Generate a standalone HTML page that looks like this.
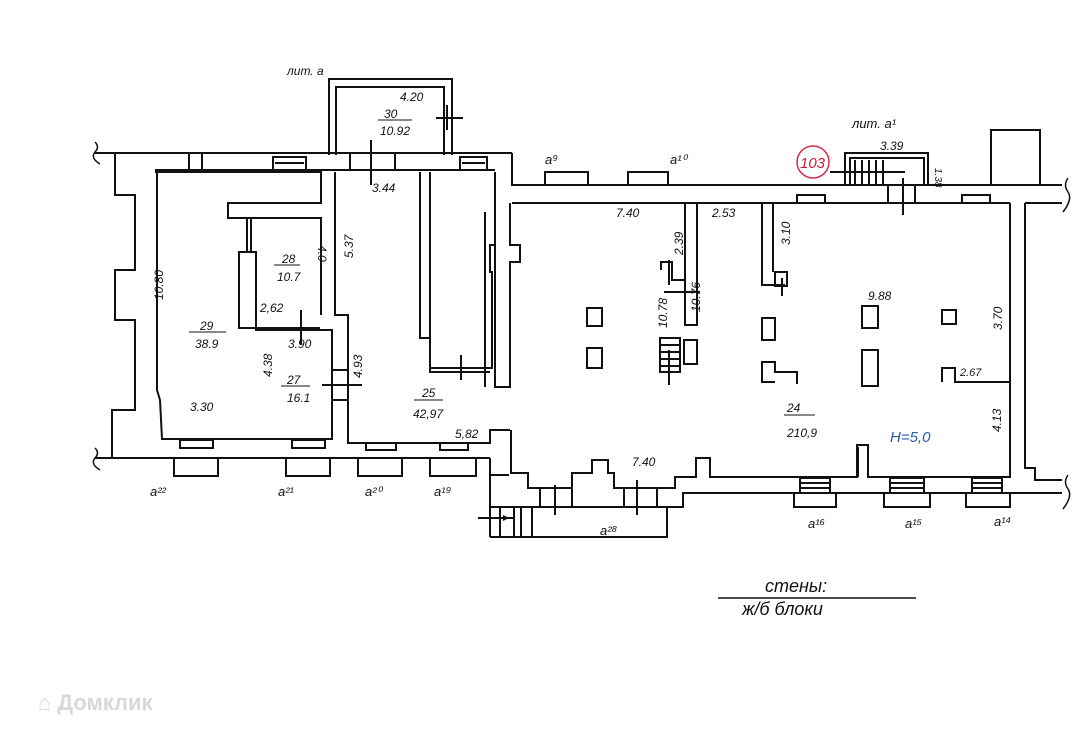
<!DOCTYPE html>
<html><head><meta charset="utf-8">
<style>
html,body{margin:0;padding:0;background:#fff;}
svg{display:block;}
text{font-family:"Liberation Sans",sans-serif;font-style:italic;fill:#111;}
</style></head><body>
<svg width="1080" height="745" viewBox="0 0 1080 745" xmlns="http://www.w3.org/2000/svg">
<rect width="1080" height="745" fill="#fff"/>
<g fill="none" stroke="#111" stroke-width="2">
<polyline points="329,155 329,79 452,79 452,155"/>
<polyline points="336,155 336,87 444,87 444,155"/>
<line x1="436" y1="118" x2="463" y2="118"/><line x1="447" y1="105" x2="447" y2="130"/>
<line x1="95" y1="153" x2="512" y2="153"/>
<polyline points="512,153 512,185 1062,185"/>
<line x1="512" y1="203" x2="1010" y2="203"/>
<line x1="1025" y1="203" x2="1062" y2="203"/>
<polyline points="115,153 115,195 135,195 135,270 115,270 115,320 135,320 135,410 112,410 112,458"/>
<polyline points="155,172 321,172 321,203 228,203 228,218 321,218 321,315"/>
<polyline points="157,172 157,390 160,400 162,439 332,439 332,330 256,330 256,252 239,252 239,328 320,328"/>
<line x1="247" y1="218" x2="247" y2="252"/><line x1="251" y1="218" x2="251" y2="252"/>
<polyline points="335,172 335,315 348,315 348,443 490,443 490,430 510,430"/>
<rect x="332" y="370" width="16" height="30"/>
<line x1="322" y1="385" x2="362" y2="385"/>
<line x1="301" y1="310" x2="301" y2="345"/>
<line x1="155" y1="170" x2="495" y2="170"/>
<line x1="189" y1="153" x2="189" y2="170"/><line x1="202" y1="153" x2="202" y2="170"/>
<rect x="273" y="157" width="33" height="13"/><line x1="275" y1="163" x2="304" y2="163"/>
<line x1="350" y1="153" x2="350" y2="170"/><line x1="395" y1="153" x2="395" y2="170"/>
<line x1="371" y1="140" x2="371" y2="185"/>
<rect x="460" y="157" width="27" height="13"/><line x1="462" y1="163" x2="485" y2="163"/>
<polyline points="420,172 420,338 430,338 430,372 490,372"/>
<polyline points="430,172 430,368 492,368 492,272 490,272 490,245 495,245 495,172"/>
<line x1="461" y1="355" x2="461" y2="380"/>
<polyline points="495,172 495,387 510,387"/>
<polyline points="510,203 510,245 520,245 520,262 510,262 510,388"/>
<line x1="485" y1="212" x2="485" y2="387"/>
<rect x="180" y="440" width="33" height="8"/><rect x="292" y="440" width="33" height="8"/>
<rect x="366" y="443" width="30" height="7"/><rect x="440" y="443" width="28" height="7"/>
<line x1="95" y1="458" x2="490" y2="458"/>
<polyline points="174,458 174,476 218,476 218,458"/><polyline points="286,458 286,476 330,476 330,458"/>
<polyline points="358,458 358,476 402,476 402,458"/><polyline points="430,458 430,476 476,476 476,458"/>
<polyline points="490,458 490,475 509,475"/>
<polyline points="511,430 511,473 528,473 528,488 572,488 572,473 592,473 592,460 608,460 608,473 614,473 614,488 675,488 675,477 696,477 696,458 710,458 710,477 857,477 857,445 868,445 868,477 1010,477 1010,203"/>
<polyline points="1025,203 1025,468 1035,468 1035,480 1062,480"/>
<polyline points="490,475 490,507 683,507 683,493 1062,493"/>
<polyline points="490,537 667,537 667,507"/>
<line x1="490" y1="507" x2="490" y2="537"/>
<line x1="500" y1="507" x2="500" y2="537"/><line x1="514" y1="507" x2="514" y2="537"/><line x1="521" y1="507" x2="521" y2="537"/><line x1="532" y1="507" x2="532" y2="537"/>
<line x1="478" y1="518" x2="515" y2="518"/>
<line x1="555" y1="485" x2="555" y2="515"/><line x1="637" y1="480" x2="637" y2="515"/>
<line x1="540" y1="488" x2="540" y2="507"/><line x1="572" y1="488" x2="572" y2="507"/><line x1="624" y1="488" x2="624" y2="507"/><line x1="657" y1="488" x2="657" y2="507"/>
<rect x="800" y="478" width="30" height="15"/><line x1="800" y1="483" x2="830" y2="483"/><line x1="800" y1="488" x2="830" y2="488"/>
<polyline points="794,493 794,507 836,507 836,493"/>
<rect x="890" y="478" width="34" height="15"/><line x1="890" y1="483" x2="924" y2="483"/><line x1="890" y1="488" x2="924" y2="488"/>
<polyline points="884,493 884,507 930,507 930,493"/>
<rect x="972" y="478" width="30" height="15"/><line x1="972" y1="483" x2="1002" y2="483"/><line x1="972" y1="488" x2="1002" y2="488"/>
<polyline points="966,493 966,507 1010,507 1010,493"/>
<polyline points="545,185 545,172 588,172 588,185"/><polyline points="628,185 628,172 668,172 668,185"/>
<rect x="797" y="195" width="28" height="8"/><rect x="962" y="195" width="28" height="8"/>
<line x1="888" y1="185" x2="888" y2="203"/><line x1="915" y1="185" x2="915" y2="203"/>
<line x1="903" y1="178" x2="903" y2="215"/>
<polyline points="845,185 845,153 928,153 928,185"/>
<polyline points="850,185 850,158 924,158 924,185"/>
<line x1="855" y1="160" x2="855" y2="185"/><line x1="862" y1="160" x2="862" y2="185"/><line x1="869" y1="160" x2="869" y2="185"/><line x1="876" y1="160" x2="876" y2="185"/><line x1="883" y1="160" x2="883" y2="185"/>
<line x1="830" y1="172" x2="905" y2="172"/>
<polyline points="991,185 991,130 1040,130 1040,185"/>
<polyline points="685,203 685,325 697,325 697,203"/>
<polyline points="762,203 762,285 785,285"/>
<line x1="773" y1="203" x2="773" y2="272"/>
<rect x="775" y="272" width="12" height="14"/><line x1="782" y1="278" x2="782" y2="296"/>
<polyline points="661,270 661,262 672,262 672,280 685,280"/>
<line x1="664" y1="292" x2="700" y2="292"/><line x1="669" y1="260" x2="669" y2="285"/>
<rect x="660" y="338" width="20" height="34"/>
<line x1="660" y1="345" x2="680" y2="345"/><line x1="660" y1="352" x2="680" y2="352"/><line x1="660" y1="359" x2="680" y2="359"/><line x1="660" y1="366" x2="680" y2="366"/>
<rect x="684" y="340" width="13" height="24"/>
<line x1="669" y1="350" x2="669" y2="385"/>
<rect x="587" y="308" width="15" height="18"/><rect x="587" y="348" width="15" height="20"/>
<rect x="762" y="318" width="13" height="22"/>
<polyline points="775,382 762,382 762,362 775,362 775,372 797,372 797,384"/>
<rect x="862" y="306" width="16" height="22"/><rect x="862" y="350" width="16" height="36"/>
<rect x="942" y="310" width="14" height="14"/>
<polyline points="942,382 942,368 955,368 955,382 1010,382"/>
<line x1="858" y1="447" x2="858" y2="477"/>
</g>
<path d="M509,518 l-6,-3 v6 z" fill="#111"/>
<g fill="none" stroke="#111" stroke-width="1.5">
<path d="M95,142 q5,5 0,10 q-5,6 5,12"/><path d="M95,448 q5,5 0,10 q-5,6 5,12"/>
<path d="M1068,178 q-5,7 0,14 q5,7 -5,20"/><path d="M1068,475 q-5,7 0,14 q5,7 -5,20"/>
</g>
<circle cx="813" cy="162" r="16" fill="none" stroke="#d03050" stroke-width="1.5"/>
<text x="800" y="168" font-size="15" style="fill:#c02040">103</text>
<g font-size="12">
<text x="287" y="75">лит. а</text>
<text x="400" y="101">4.20</text>
<text x="384" y="118">30</text><line x1="378" y1="120" x2="412" y2="120" stroke="#111"/>
<text x="380" y="135">10.92</text>
<text x="372" y="192">3.44</text>
<text x="282" y="263">28</text><line x1="274" y1="265" x2="300" y2="265" stroke="#111"/>
<text x="277" y="281">10.7</text>
<text x="260" y="312">2,62</text>
<text x="288" y="348">3.90</text>
<text x="200" y="330">29</text><line x1="189" y1="332" x2="226" y2="332" stroke="#111"/>
<text x="195" y="348">38.9</text>
<text x="287" y="384">27</text><line x1="281" y1="386" x2="310" y2="386" stroke="#111"/>
<text x="287" y="402">16.1</text>
<text x="190" y="411">3.30</text>
<text x="422" y="397">25</text><line x1="414" y1="400" x2="443" y2="400" stroke="#111"/>
<text x="413" y="418">42,97</text>
<text x="455" y="438">5,82</text>
<text x="616" y="217">7.40</text>
<text x="712" y="217">2.53</text>
<text x="868" y="300">9.88</text>
<text x="960" y="376" font-size="11">2.67</text>
<text x="787" y="412">24</text><line x1="784" y1="415" x2="815" y2="415" stroke="#111"/>
<text x="787" y="437">210,9</text>
<text x="890" y="442" font-size="15" style="fill:#2a5aa8">Н=5,0</text>
<text x="632" y="466">7.40</text>
<text x="880" y="150">3.39</text>
<text x="852" y="128" font-size="13">лит. а¹</text>
<text x="545" y="164" font-size="13">а⁹</text>
<text x="670" y="164" font-size="13">а¹⁰</text>
<text x="150" y="496" font-size="13">а²²</text>
<text x="278" y="496" font-size="13">а²¹</text>
<text x="365" y="496" font-size="13">а²⁰</text>
<text x="434" y="496" font-size="13">а¹⁹</text>
<text x="600" y="535" font-size="13">а²⁸</text>
<text x="808" y="528" font-size="13">а¹⁶</text>
<text x="905" y="528" font-size="13">а¹⁵</text>
<text x="994" y="526" font-size="13">а¹⁴</text>
</g>
<g font-size="12">
<text transform="translate(163,300) rotate(-90)">10.80</text>
<text transform="translate(318,245) rotate(90)">4.0</text>
<text transform="translate(353,258) rotate(-90)">5.37</text>
<text transform="translate(362,378) rotate(-90)">4.93</text>
<text transform="translate(272,377) rotate(-90)">4.38</text>
<text transform="translate(683,255) rotate(-90)">2.39</text>
<text transform="translate(790,245) rotate(-90)">3.10</text>
<text transform="translate(667,328) rotate(-90)">10.78</text>
<text transform="translate(700,312) rotate(-90)">10.76</text>
<text transform="translate(1002,330) rotate(-90)">3.70</text>
<text transform="translate(1001,432) rotate(-90)">4.13</text>
<text transform="translate(935,168) rotate(90)" font-size="10">1.38</text>
</g>
<text x="765" y="592" font-size="18">стены:</text>
<line x1="718" y1="598" x2="916" y2="598" stroke="#111" stroke-width="1.5"/>
<text x="742" y="615" font-size="18">ж/б блоки</text>
<text x="38" y="710" font-size="22" font-weight="bold" style="fill:#d8d8d8;font-style:normal">⌂ Домклик</text>
</svg>
</body></html>
